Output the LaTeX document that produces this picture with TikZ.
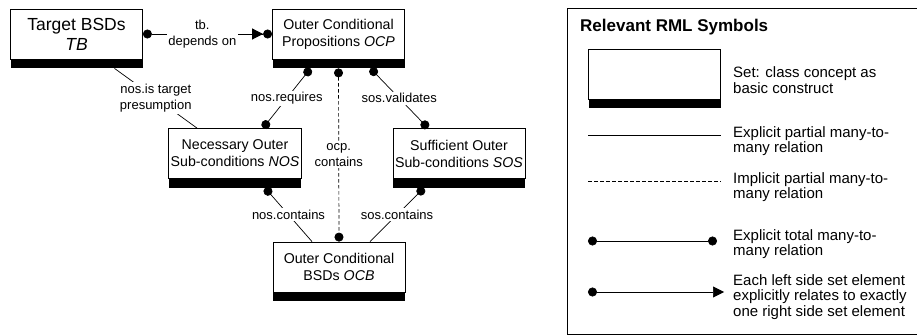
\documentclass[tikz,border=0pt]{standalone}
\usepackage{fontspec}
\setmainfont{Liberation Sans}
\usetikzlibrary{positioning,arrows.meta}

\tikzset{
  rmldot/.tip={Circle[length=9pt]},
  rmlhead/.tip={Triangle[length=11pt,width=11pt]},
  setbox/.style={draw, fill=white, line width=0.8pt, minimum width=132pt,
    minimum height=50pt, inner sep=2pt, align=center,
    font=\fontsize{14.2}{17}\selectfont},
  setbar/.style={fill=black, minimum width=132pt, minimum height=9pt,
    inner sep=0pt, outer sep=0pt},
  rel/.style={line width=0.7pt},
  implicit/.style={rel, dash pattern=on 3.5pt off 2.5pt},
  lbl/.style={fill=white, inner sep=1.5pt, align=center,
    font=\fontsize{13}{16.5}\selectfont},
  legtext/.style={anchor=west, align=left, inner sep=0pt,
    font=\fontsize{15}{15.5}\selectfont}
}

\begin{document}
\begin{tikzpicture}[x=1pt, y=-1pt]
    \useasboundingbox (0,0) rectangle (917,336);

    % sets
    \node[setbox, font=\fontsize{17.5}{20}\selectfont] (tb) at (76.5,34) {Target BSDs\\\textit{TB}};
    \node[setbox] (ocp) at (338.5,34) {Outer Conditional\\Propositions \textit{OCP}};
    \node[setbox] (nos) at (235,153.5) {Necessary Outer\\Sub-conditions \textit{NOS}};
    \node[setbox] (sos) at (459,153.5) {Sufficient Outer\\Sub-conditions \textit{SOS}};
    \node[setbox] (ocb) at (339,267) {Outer Conditional\\BSDs \textit{OCB}};
    \foreach \n in {tb,ocp,nos,sos,ocb}
      \node[setbar, below=0pt of \n] (\n-bar) {};

    % relations
    \draw[rel, {rmldot}-{rmlhead[]rmldot[]}] (tb) -- node[lbl, pos=0.46] {tb.\\depends on} (ocp);
    \draw[rel] ([xshift=38pt]tb-bar.south) -- node[lbl] {nos.is target\\presumption} ([xshift=-38pt]nos.north);
    \draw[rel, {rmldot}-{rmldot}] ([xshift=-28pt]ocp-bar.south) -- node[lbl] {nos.requires} ([xshift=28pt]nos.north);
    \draw[rel, {rmldot}-{rmldot}] ([xshift=32pt]ocp-bar.south) -- node[lbl] {sos.validates} ([xshift=-31pt]sos.north);
    \draw[implicit, {rmldot}-{rmldot}] (ocp-bar.south) -- node[lbl] {ocp.\\contains} (ocb.north);
    \draw[rel, {rmldot}-] ([xshift=30pt]nos-bar.south) -- node[lbl] {nos.contains} ([xshift=-27pt]ocb.north);
    \draw[rel, {rmldot}-] ([xshift=-35pt]sos-bar.south) -- node[lbl] {sos.contains} ([xshift=31pt]ocb.north);

    % legend
    \draw[line width=0.8pt] (925,8) -- (567,8) -- (567,334) -- (925,334);
    \node[anchor=west, inner sep=0pt, font=\fontsize{17}{20}\selectfont\bfseries] (legtitle) at (580,27) {Relevant RML Symbols};
    \node[setbox] (setsym) at (654.5,74) {};
    \node[setbar, below=0pt of setsym] (setsym-bar) {};
    \draw[rel] (588,135) -- (721,135);
    \draw[implicit] (588,181) -- (721,181);
    \draw[rel, {rmldot}-{rmldot}] (588,241) -- (717,241);
    \draw[rel, {rmldot}-{rmlhead}] (588,292) -- (724,292);
    \node[legtext] at (733,80) {Set: class concept as\\basic construct};
    \node[legtext] at (733,141) {Explicit partial many-to-\\many relation};
    \node[legtext] at (733,187) {Implicit partial many-to-\\many relation};
    \node[legtext] at (733,244) {Explicit total many-to-\\many relation};
    \node[legtext] at (733,297) {Each left side set element\\explicitly relates to exactly\\one right side set element};

    % \draw[help lines, step=20] (0,0) grid (917,336);
\end{tikzpicture}
\end{document}
